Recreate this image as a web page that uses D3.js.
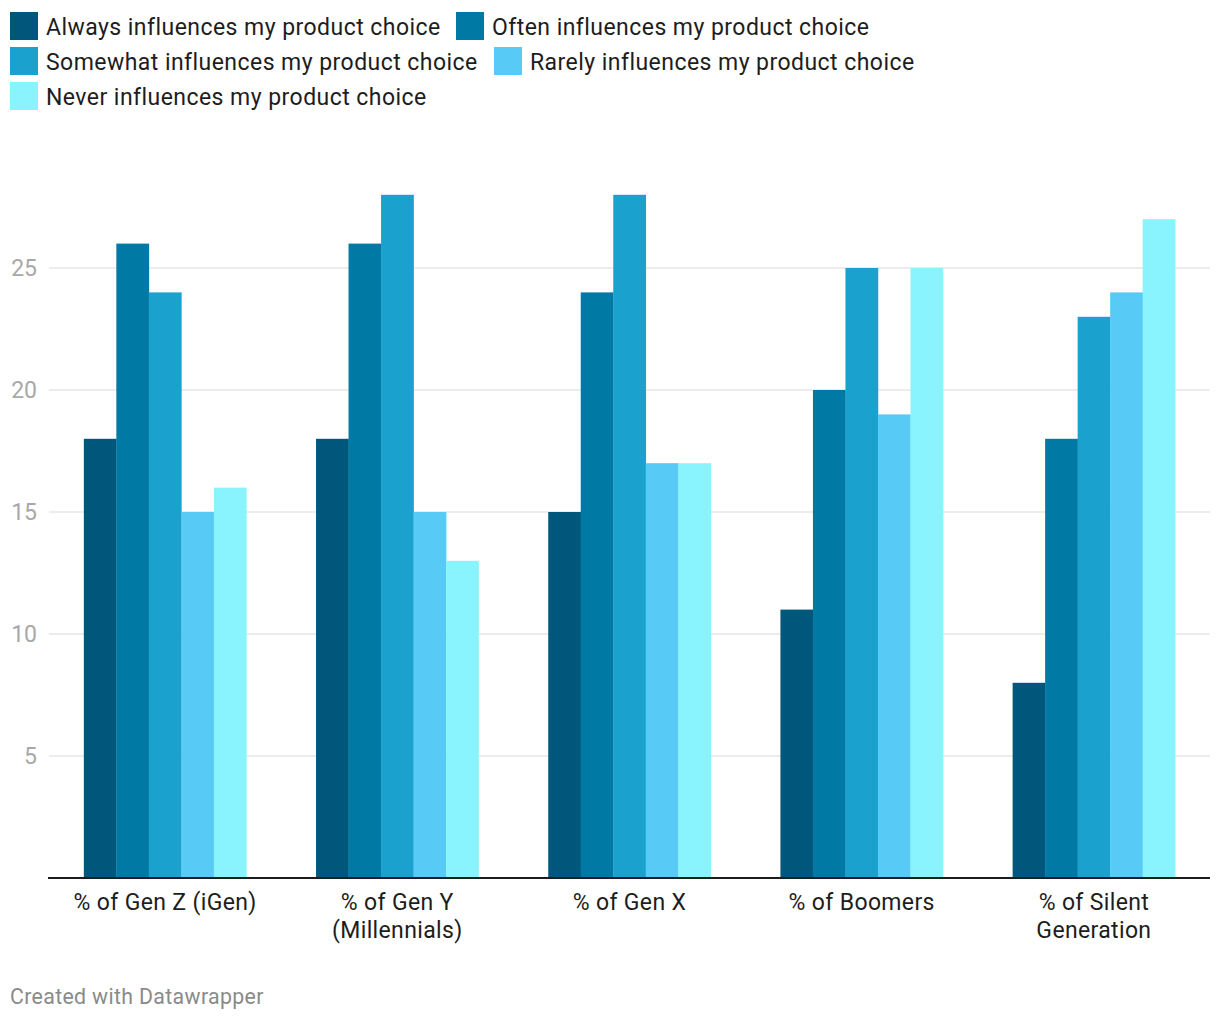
<!DOCTYPE html>
<html>
<head>
<meta charset="utf-8">
<script src="https://cdn.jsdelivr.net/npm/d3@7"></script>
<style>
  html, body { margin: 0; padding: 0; background: #fff; }
  svg { display: block; font-family: Roboto, "Noto Sans", sans-serif; }
</style>
</head>
<body>
<svg id="chart" width="1220" height="1020"></svg>
<script>
const categories = [
  ["% of Gen Z (iGen)"],
  ["% of Gen Y", "(Millennials)"],
  ["% of Gen X"],
  ["% of Boomers"],
  ["% of Silent", "Generation"]
];
const categoryKeys = ["Gen Z", "Gen Y", "Gen X", "Boomers", "Silent"];
const seriesNames = [
  "Always influences my product choice",
  "Often influences my product choice",
  "Somewhat influences my product choice",
  "Rarely influences my product choice",
  "Never influences my product choice"
];
const seriesColors = ["#00577c", "#0079a5", "#1aa1ce", "#57caf6", "#8af4fe"];
const always   = [18, 18, 15, 11, 8];
const often    = [26, 26, 24, 20, 18];
const somewhat = [24, 28, 28, 25, 23];
const rarely   = [15, 15, 17, 19, 24];
const never    = [16, 13, 17, 25, 27];
const yTicks = [5, 10, 15, 20, 25];

const seriesValues = [always, often, somewhat, rarely, never];

const svg = d3.select("#chart");

// Legend
const legendItems = [
  {i: 0, x: 10, y: 12}, {i: 1, x: 456, y: 12},
  {i: 2, x: 10, y: 47}, {i: 3, x: 494, y: 47},
  {i: 4, x: 10, y: 82}
];
const lg = svg.append("g");
legendItems.forEach(d => {
  lg.append("rect").attr("x", d.x).attr("y", d.y).attr("width", 28).attr("height", 28)
    .attr("fill", seriesColors[d.i]);
  lg.append("text").attr("x", d.x + 36).attr("y", d.y + 23)
    .attr("font-size", 23).attr("letter-spacing", 0.45).attr("fill", "#1d1d1d").text(seriesNames[d.i]);
});

// Scales
const x0 = d3.scaleBand().domain(categoryKeys).range([49, 1210]).paddingInner(0.3).paddingOuter(0.15);
const x1 = d3.scaleBand().domain(d3.range(seriesNames.length)).range([0, x0.bandwidth()]);
const y = d3.scaleLinear().domain([0, 25]).range([878, 268]);

// Grid
const grid = svg.append("g");
grid.selectAll("line").data(yTicks).join("line")
  .attr("x1", 49).attr("x2", 1210)
  .attr("y1", d => y(d)).attr("y2", d => y(d))
  .attr("stroke", "#e6e6e6").attr("stroke-width", 1.5);
grid.selectAll("text").data(yTicks).join("text")
  .attr("x", 37).attr("y", d => y(d)).attr("dy", "0.36em")
  .attr("text-anchor", "end").attr("font-size", 23).attr("fill", "#a8a8a8")
  .text(d => d);

// Bars
const groups = svg.append("g").selectAll("g").data(categoryKeys).join("g")
  .attr("transform", d => `translate(${x0(d)},0)`);
groups.selectAll("rect")
  .data((d, ci) => seriesValues.map((vals, si) => ({si, v: vals[ci]})))
  .join("rect")
  .attr("x", d => x1(d.si))
  .attr("width", x1.bandwidth() + 0.3)
  .attr("y", d => y(d.v))
  .attr("height", d => y(0) - y(d.v))
  .attr("fill", d => seriesColors[d.si]);

// Baseline
svg.append("line").attr("x1", 48).attr("x2", 1210)
  .attr("y1", y(0)).attr("y2", y(0))
  .attr("stroke", "#1d1d1d").attr("stroke-width", 2);

// Category labels
const cl = svg.append("g");
categoryKeys.forEach((k, ci) => {
  const cx = x0(k) + x0.bandwidth() / 2;
  const t = cl.append("text").attr("x", cx).attr("y", 910)
    .attr("text-anchor", "middle").attr("font-size", 23).attr("letter-spacing", 0.35).attr("fill", "#1d1d1d");
  categories[ci].forEach((line, li) => {
    t.append("tspan").attr("x", cx).attr("dy", li === 0 ? 0 : 28).text(line);
  });
});

// Footer
svg.append("text").attr("x", 10).attr("y", 1004).attr("font-size", 21.3).attr("letter-spacing", 0.35)
  .attr("fill", "#8a8a8a").text("Created with Datawrapper");
</script>
</body>
</html>
